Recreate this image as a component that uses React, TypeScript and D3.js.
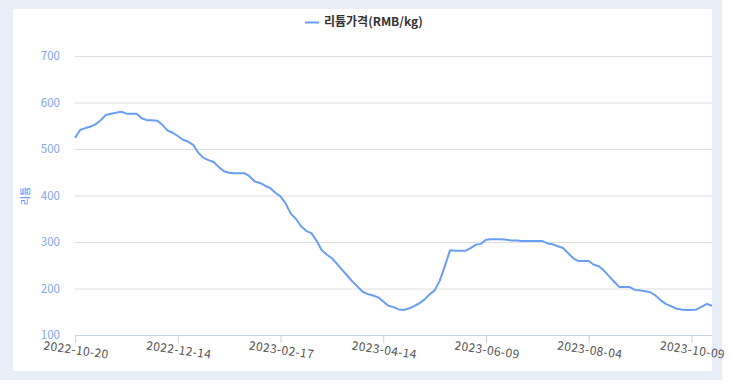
import React, { useEffect, useRef } from 'react';
import * as d3 from 'd3';

// lithium carbonate price, one point every 2 trading days
const prices: number[] = [
  524, 541, 545, 548, 553, 562, 573, 576, 578, 580,
  576, 576, 576, 566, 562, 562, 561, 552, 540, 535,
  528, 520, 516, 509, 492, 481, 476, 472, 461, 452,
  449, 448, 448, 448, 441, 430, 427, 421, 416, 406,
  398, 383, 361, 350, 334, 324, 319, 303, 283, 273,
  265, 253, 240, 228, 215, 204, 193, 188, 185, 181,
  172, 163, 160, 155, 154, 157, 162, 168, 176, 187,
  196, 217, 248, 282, 281, 281, 281, 287, 294, 296,
  305, 306, 306, 306, 305, 303, 303, 302, 302, 302,
  302, 302, 297, 295, 291, 287, 276, 265, 259, 259,
  259, 251, 248, 238, 226, 214, 203, 203, 203, 197,
  196, 194, 192, 185, 175, 167, 162, 157, 155, 154,
  154, 155, 161, 167, 163,
];

const tickLabels = ['2022-10-20', '2022-12-14', '2023-02-17', '2023-04-14', '2023-06-09', '2023-08-04', '2023-10-09'];
const tickStep = 20; // points between labelled dates
const yTicks = [100, 200, 300, 400, 500, 600, 700];

const seriesName = '리튬가격(RMB/kg)';
const yTitle = '리튬';

const W = 730;
const H = 390;
const FONT = "'Noto Sans CJK KR', 'Noto Sans', sans-serif";

const App = () => {
  const svgRef = useRef<SVGSVGElement>(null);

  useEffect(() => {
    const svg = d3.select(svgRef.current);
    svg.selectAll('*').remove();

    const margin = { top: 56, right: 18, bottom: 55, left: 75 };
    const innerW = W - margin.left - margin.right;
    const innerH = H - margin.top - margin.bottom;

    // backgrounds
    svg.append('rect').attr('width', W).attr('height', H).attr('fill', '#fff');
    svg.append('rect').attr('width', 722).attr('height', 380).attr('fill', '#e7eef8');
    svg.append('rect').attr('x', 13).attr('y', 9).attr('width', 699).attr('height', 362).attr('fill', '#fff');

    const g = svg.append('g').attr('transform', `translate(${margin.left},${margin.top})`);

    const x = d3.scaleLinear().domain([0, prices.length - 1]).range([0, innerW]);
    const y = d3.scaleLinear().domain([100, 700]).range([innerH, 0]);

    // grid
    g.selectAll('line.grid')
      .data(yTicks.filter(t => t > 100))
      .enter()
      .append('line')
      .attr('x1', 0)
      .attr('x2', innerW)
      .attr('y1', d => y(d) + 0.5)
      .attr('y2', d => y(d) + 0.5)
      .attr('stroke', '#dedede')
      .attr('stroke-width', 1);

    // y labels
    g.selectAll('text.ylab')
      .data(yTicks)
      .enter()
      .append('text')
      .attr('x', -15)
      .attr('y', d => y(d))
      .attr('dy', '0.35em')
      .attr('text-anchor', 'end')
      .attr('fill', '#7ea6f3')
      .style('font-family', FONT)
      .style('font-size', '11.5px')
      .text(d => d);

    // y title
    svg.append('text')
      .attr('transform', `translate(29,196) rotate(-90)`)
      .attr('text-anchor', 'middle')
      .attr('fill', '#5b8ff9')
      .style('font-family', FONT)
      .style('font-size', '10px')
      .text(yTitle);

    // x axis
    g.append('line')
      .attr('x1', 0)
      .attr('x2', innerW)
      .attr('y1', innerH + 0.5)
      .attr('y2', innerH + 0.5)
      .attr('stroke', '#c8d4e6');

    const ticks = tickLabels.map((label, i) => ({ label, idx: i * tickStep }));
    const tk = g.selectAll('g.tick').data(ticks).enter().append('g')
      .attr('transform', d => `translate(${x(d.idx)},${innerH})`);
    tk.append('line')
      .attr('x1', 0.5).attr('x2', 0.5)
      .attr('y1', 0).attr('y2', 8)
      .attr('stroke', '#c8d4e6');
    tk.append('text')
      .attr('transform', 'translate(1,15) rotate(8)')
      .attr('text-anchor', 'middle')
      .attr('dy', '0.35em')
      .attr('fill', '#555')
      .style('font-family', FONT)
      .style('font-size', '12px')
      .style('letter-spacing', '0.4px')
      .text(d => d.label);

    // line
    const line = d3.line<number>()
      .x((_, i) => x(i))
      .y(d => y(d));

    g.append('path')
      .datum(prices)
      .attr('fill', 'none')
      .attr('stroke', '#6a9ef5')
      .attr('stroke-width', 2)
      .attr('stroke-linejoin', 'round')
      .attr('d', line);

    // legend
    const lg = svg.append('g').attr('transform', 'translate(305,22)');
    lg.append('line')
      .attr('x1', 0).attr('x2', 14)
      .attr('y1', 0.5).attr('y2', 0.5)
      .attr('stroke', '#6a9ef5')
      .attr('stroke-width', 2);
    lg.append('text')
      .attr('x', 19)
      .attr('y', 0)
      .attr('dy', '0.35em')
      .attr('fill', '#333')
      .style('font-family', FONT)
      .style('font-size', '12px')
      .style('font-weight', 600)
      .text(seriesName);
  }, []);

  return (
    <svg
      ref={svgRef}
      width={W}
      height={H}
      style={{ position: 'absolute', left: 0, top: 0, display: 'block' }}
    />
  );
};

export default App;
